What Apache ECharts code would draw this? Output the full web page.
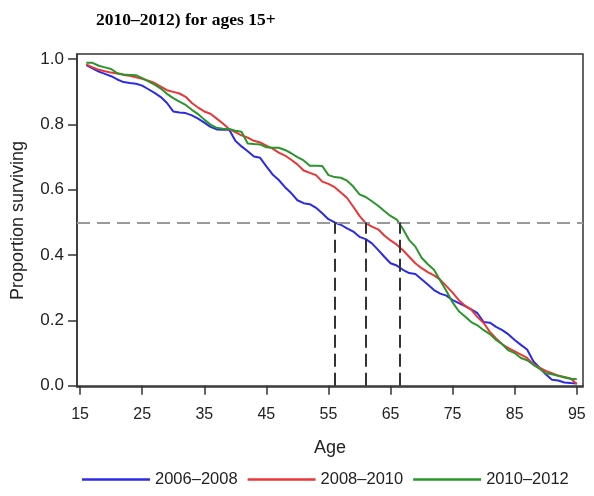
<!DOCTYPE html>
<html>
<head>
<meta charset="utf-8">
<script src="https://cdn.jsdelivr.net/npm/echarts@6/dist/echarts.min.js"></script>
<style>html,body{margin:0;padding:0;background:#fff;}#c{width:594px;height:496px;}</style>
</head>
<body>
<div id="c"></div>
<script>
const ages = [16,17,18,19,20,21,22,23,24,25,26,27,28,29,30,31,32,33,34,35,36,37,38,39,40,41,42,43,44,45,46,47,48,49,50,51,52,53,54,55,56,57,58,59,60,61,62,63,64,65,66,67,68,69,70,71,72,73,74,75,76,77,78,79,80,81,82,83,84,85,86,87,88,89,90,91,92,93,94,95];
const s2006 = [0.982,0.972,0.962,0.955,0.948,0.938,0.930,0.927,0.925,0.919,0.908,0.897,0.884,0.866,0.840,0.837,0.835,0.828,0.818,0.806,0.793,0.785,0.784,0.785,0.750,0.733,0.718,0.702,0.698,0.672,0.647,0.630,0.608,0.590,0.568,0.559,0.556,0.545,0.528,0.510,0.500,0.493,0.482,0.472,0.456,0.449,0.436,0.416,0.395,0.375,0.368,0.355,0.345,0.342,0.326,0.310,0.293,0.282,0.276,0.262,0.253,0.244,0.234,0.222,0.195,0.193,0.180,0.170,0.157,0.140,0.125,0.111,0.075,0.055,0.035,0.018,0.016,0.010,0.008,0.007];
const s2008 = [0.984,0.975,0.968,0.963,0.959,0.956,0.952,0.949,0.945,0.940,0.934,0.927,0.916,0.905,0.900,0.895,0.885,0.866,0.852,0.840,0.833,0.818,0.803,0.786,0.777,0.767,0.760,0.750,0.745,0.735,0.726,0.714,0.705,0.692,0.678,0.659,0.652,0.645,0.625,0.618,0.608,0.592,0.575,0.548,0.520,0.498,0.487,0.479,0.460,0.445,0.432,0.415,0.395,0.375,0.360,0.348,0.338,0.325,0.305,0.285,0.262,0.245,0.233,0.210,0.192,0.165,0.145,0.127,0.115,0.105,0.095,0.085,0.066,0.055,0.045,0.038,0.031,0.027,0.022,0.005];
const s2010 = [0.989,0.989,0.980,0.975,0.970,0.957,0.953,0.952,0.951,0.942,0.932,0.922,0.910,0.894,0.881,0.870,0.860,0.845,0.832,0.815,0.800,0.790,0.787,0.786,0.781,0.778,0.742,0.740,0.739,0.730,0.729,0.729,0.722,0.712,0.700,0.690,0.674,0.674,0.673,0.645,0.639,0.637,0.628,0.610,0.586,0.578,0.565,0.551,0.535,0.520,0.509,0.480,0.446,0.426,0.392,0.372,0.355,0.322,0.290,0.255,0.228,0.212,0.195,0.185,0.170,0.158,0.140,0.127,0.108,0.100,0.085,0.078,0.064,0.052,0.038,0.035,0.030,0.025,0.021,0.020];
const seriesNames = ['2006\u20132008','2008\u20132010','2010\u20132012'];
const medians = [56.0, 61.0, 66.5];
const xTicks = [15,25,35,45,55,65,75,85,95];
const yTicks = [0,0.2,0.4,0.6,0.8,1.0];
const colors = ['#2b2be6','#ea3636','#2a962a'];

const allSeries = [s2006, s2008, s2010];
const font = 'Liberation Sans, Arial, sans-serif';
const chart = echarts.init(document.getElementById('c'), null, {renderer: 'canvas'});

const lineSeries = allSeries.map((vals, i) => ({
  name: seriesNames[i],
  type: 'line',
  data: ages.map((a, j) => [a, vals[j]]),
  showSymbol: false,
  symbol: 'none',
  lineStyle: {color: colors[i], width: 2},
  itemStyle: {color: colors[i]},
  z: 3,
  silent: true,
  animation: false
}));

const refSeries = {
  name: 'ref',
  type: 'line',
  data: [],
  silent: true,
  animation: false,
  z: 2,
  markLine: {
    symbol: ['none','none'],
    silent: true,
    label: {show: false},
    animation: false,
    data: [
      {yAxis: 0.5, lineStyle: {color: '#999999', type: [13,7], width: 2}},
      ...medians.map(m => [
        {coord: [m, 0], lineStyle: {color: '#333333', type: [13,6], width: 2}},
        {coord: [m, 0.5]}
      ])
    ]
  }
};

chart.setOption({
  animation: false,
  backgroundColor: '#ffffff',
  title: {
    text: '2010\u20132012) for ages 15+',
    left: 91, top: 6,
    textStyle: {fontFamily: 'Liberation Serif, Times New Roman, serif', fontWeight: 'bold', fontSize: 17.5, color: '#000'}
  },
  grid: {left: 77, right: 11, top: 54, bottom: 109, show: true, borderColor: '#333', borderWidth: 1.5, containLabel: false},
  legend: {
    data: seriesNames,
    left: 77, top: 466,
    icon: 'rect',
    itemWidth: 68, itemHeight: 2.5,
    itemGap: 10,
    textStyle: {fontFamily: font, fontSize: 16.5, color: '#222'}
  },
  xAxis: {
    type: 'value', min: 14.5, max: 96,
    name: 'Age', nameLocation: 'middle', nameGap: 52,
    nameTextStyle: {fontFamily: font, fontSize: 18, color: '#222'},
    axisLine: {show: true, lineStyle: {color: '#333', width: 1.5}},
    axisTick: {show: true, length: 9, customValues: xTicks, lineStyle: {color: '#333', width: 1.5}},
    axisLabel: {customValues: xTicks, margin: 20, fontFamily: font, fontSize: 16, color: '#222'},
    splitLine: {show: false}
  },
  yAxis: {
    type: 'value', min: -0.004, max: 1.016,
    name: 'Proportion surviving', nameLocation: 'middle', nameGap: 50, nameRotate: 90,
    nameTextStyle: {fontFamily: font, fontSize: 18, color: '#222'},
    axisLine: {show: true, lineStyle: {color: '#333', width: 1.5}},
    axisTick: {show: true, length: 9, customValues: yTicks, lineStyle: {color: '#333', width: 1.5}},
    axisLabel: {customValues: yTicks, margin: 13, fontFamily: font, fontSize: 17, color: '#222', formatter: v => v.toFixed(1)},
    splitLine: {show: false}
  },
  series: [refSeries, ...lineSeries]
});
</script>
</body>
</html>
